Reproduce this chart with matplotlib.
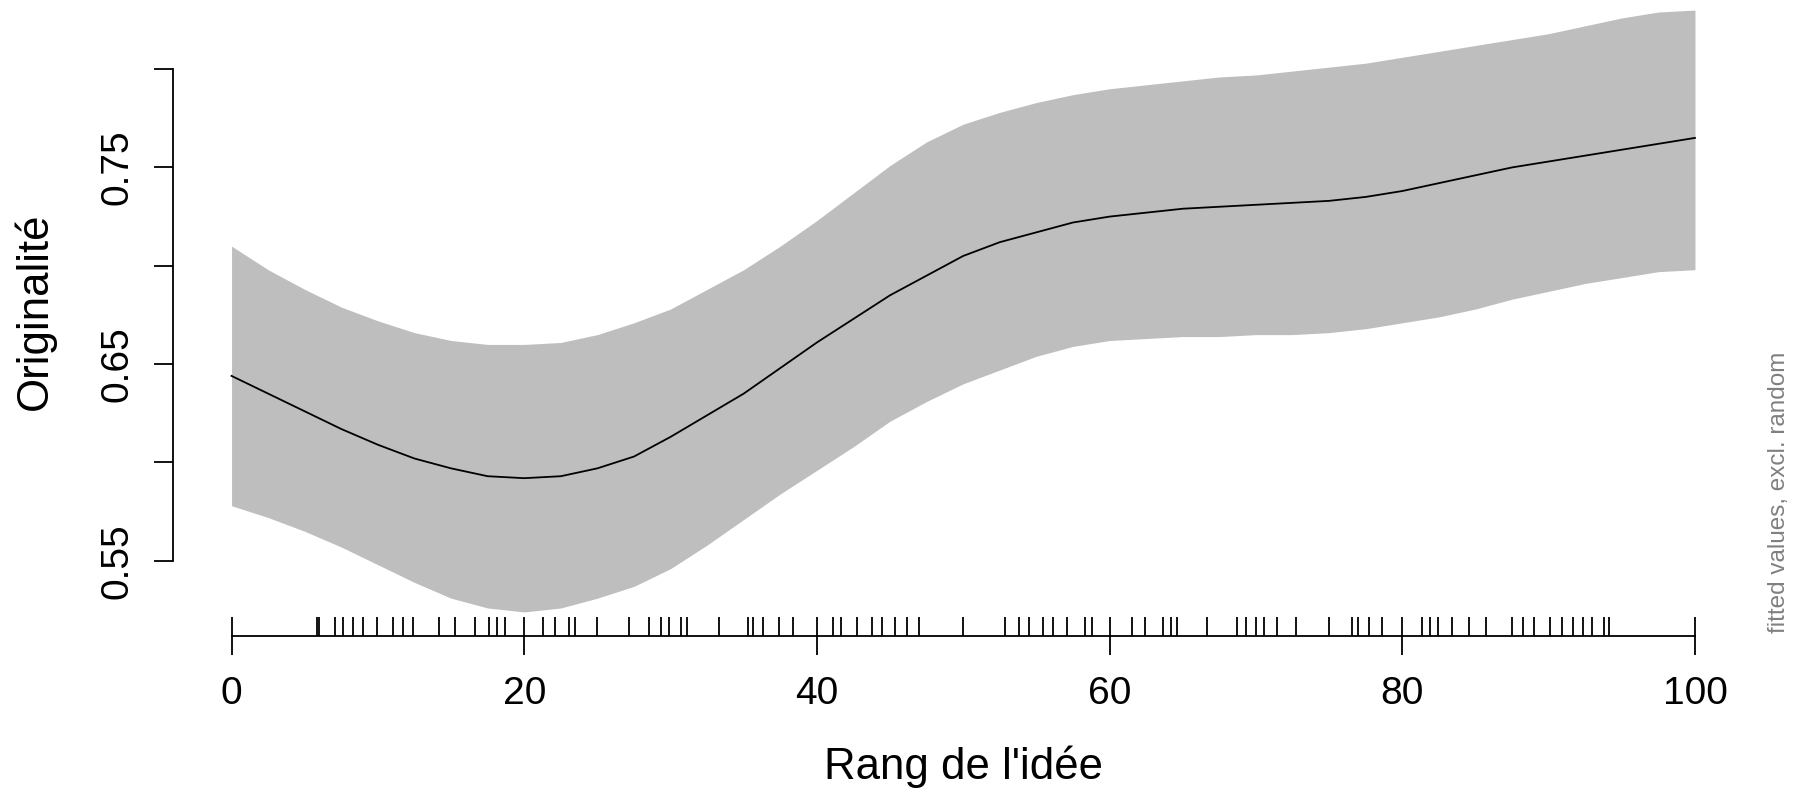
import matplotlib
matplotlib.use("Agg")
import matplotlib.pyplot as plt

plt.rcParams['font.family'] = ['Liberation Sans', 'DejaVu Sans']

# Smooth term: rank of the idea vs. fitted originality, with confidence band
rang = [0, 2.5, 5, 7.5, 10, 12.5, 15, 17.5, 20, 22.5, 25, 27.5, 30, 32.5, 35,
        37.5, 40, 42.5, 45, 47.5, 50, 52.5, 55, 57.5, 60, 62.5, 65, 67.5, 70,
        72.5, 75, 77.5, 80, 82.5, 85, 87.5, 90, 92.5, 95, 97.5, 100]

ajuste = [0.644, 0.635, 0.626, 0.617, 0.609, 0.602, 0.597, 0.593, 0.592, 0.593,
          0.597, 0.603, 0.613, 0.624, 0.635, 0.648, 0.661, 0.673, 0.685, 0.695,
          0.705, 0.712, 0.717, 0.722, 0.725, 0.727, 0.729, 0.730, 0.731, 0.732,
          0.733, 0.735, 0.738, 0.742, 0.746, 0.750, 0.753, 0.756, 0.759, 0.762,
          0.765]

borne_sup = [0.710, 0.698, 0.688, 0.679, 0.672, 0.666, 0.662, 0.660, 0.660, 0.661,
             0.665, 0.671, 0.678, 0.688, 0.698, 0.710, 0.723, 0.737, 0.751, 0.763,
             0.772, 0.778, 0.783, 0.787, 0.790, 0.792, 0.794, 0.796, 0.797, 0.799,
             0.801, 0.803, 0.806, 0.809, 0.812, 0.815, 0.818, 0.822, 0.826, 0.829,
             0.830]

borne_inf = [0.578, 0.572, 0.565, 0.557, 0.548, 0.539, 0.531, 0.526, 0.524, 0.526,
             0.531, 0.537, 0.546, 0.558, 0.571, 0.584, 0.596, 0.608, 0.621, 0.631,
             0.640, 0.647, 0.654, 0.659, 0.662, 0.663, 0.664, 0.664, 0.665, 0.665,
             0.666, 0.668, 0.671, 0.674, 0.678, 0.683, 0.687, 0.691, 0.694, 0.697,
             0.698]

# Observed ranks shown as a rug
rug = [0, 5.81, 5.99, 7.06, 7.63, 8.31, 9.0, 9.95, 11.05, 11.73, 12.37, 14.19,
       15.26, 16.63, 17.61, 18.11, 18.68, 20, 21.30, 22.10, 23.08, 23.47, 25.0,
       27.18, 28.55, 29.34, 29.91, 30.71, 31.14, 33.33, 35.27, 35.65, 36.34,
       37.43, 38.35, 40, 41.12, 41.63, 42.76, 43.75, 44.43, 45.34, 46.18, 46.99,
       50.0, 52.86, 53.84, 54.52, 55.47, 56.16, 57.12, 58.33, 58.78, 60, 61.52,
       62.43, 63.68, 64.18, 64.64, 66.67, 68.74, 69.31, 69.99, 70.56, 71.47,
       72.73, 75.0, 76.55, 76.96, 77.76, 78.6, 80, 81.34, 81.91, 82.43, 83.39,
       84.59, 85.73, 87.49, 88.28, 88.97, 90.11, 90.91, 91.70, 92.38, 92.96,
       93.80, 94.16, 100]

x_ticks = [0, 20, 40, 60, 80, 100]
y_ticks = [0.55, 0.60, 0.65, 0.70, 0.75, 0.80]
y_labels = ['0.55', '', '0.65', '', '0.75', '']

W, H = 1800, 794
fig = plt.figure(figsize=(W / 100, H / 100), dpi=100)
ax = fig.add_axes([173 / W, (H - 636) / H, 1580.5 / W, 650 / H])

ax.fill_between(rang, borne_inf, borne_sup, color='#bebebe', linewidth=0)
ax.plot(rang, ajuste, color='black', lw=1.3)
ax.vlines(rug, 0, 0.03, transform=ax.get_xaxis_transform(),
          colors='black', lw=1.3, clip_on=False)

# 4% padding around the data range on both axes
xr = max(rang) - min(rang)
ax.set_xlim(min(rang) - 0.04 * xr, max(rang) + 0.04 * xr)
lo, hi = min(borne_inf), max(borne_sup)
yr = hi - lo
ax.set_ylim(lo - 0.04 * yr, hi + 0.04 * yr)

for s in ('top', 'right'):
    ax.spines[s].set_visible(False)
ax.spines['left'].set_bounds(y_ticks[0], y_ticks[-1])
ax.spines['bottom'].set_bounds(x_ticks[0], x_ticks[-1])
for s in ('left', 'bottom'):
    ax.spines[s].set_linewidth(1.3)

ax.set_xticks(x_ticks)
ax.set_xticklabels([str(t) for t in x_ticks])
ax.set_yticks(y_ticks)
ax.set_yticklabels(y_labels, rotation=90, va='center')
ax.tick_params(axis='both', direction='out', length=13.7, width=1.3,
               labelsize=28)
ax.tick_params(axis='x', pad=15)
ax.tick_params(axis='y', pad=13)

ax.set_xlabel("Rang de l'idée", fontsize=31.5, labelpad=24)
ax.set_ylabel("Originalité", fontsize=31.5, labelpad=32)

fig.text(1779 / W, 1 - 492 / H, 'fitted values, excl. random', rotation=90,
         ha='center', va='center', fontsize=17.5, color='#808080')

fig.savefig('out.png', dpi=100)
